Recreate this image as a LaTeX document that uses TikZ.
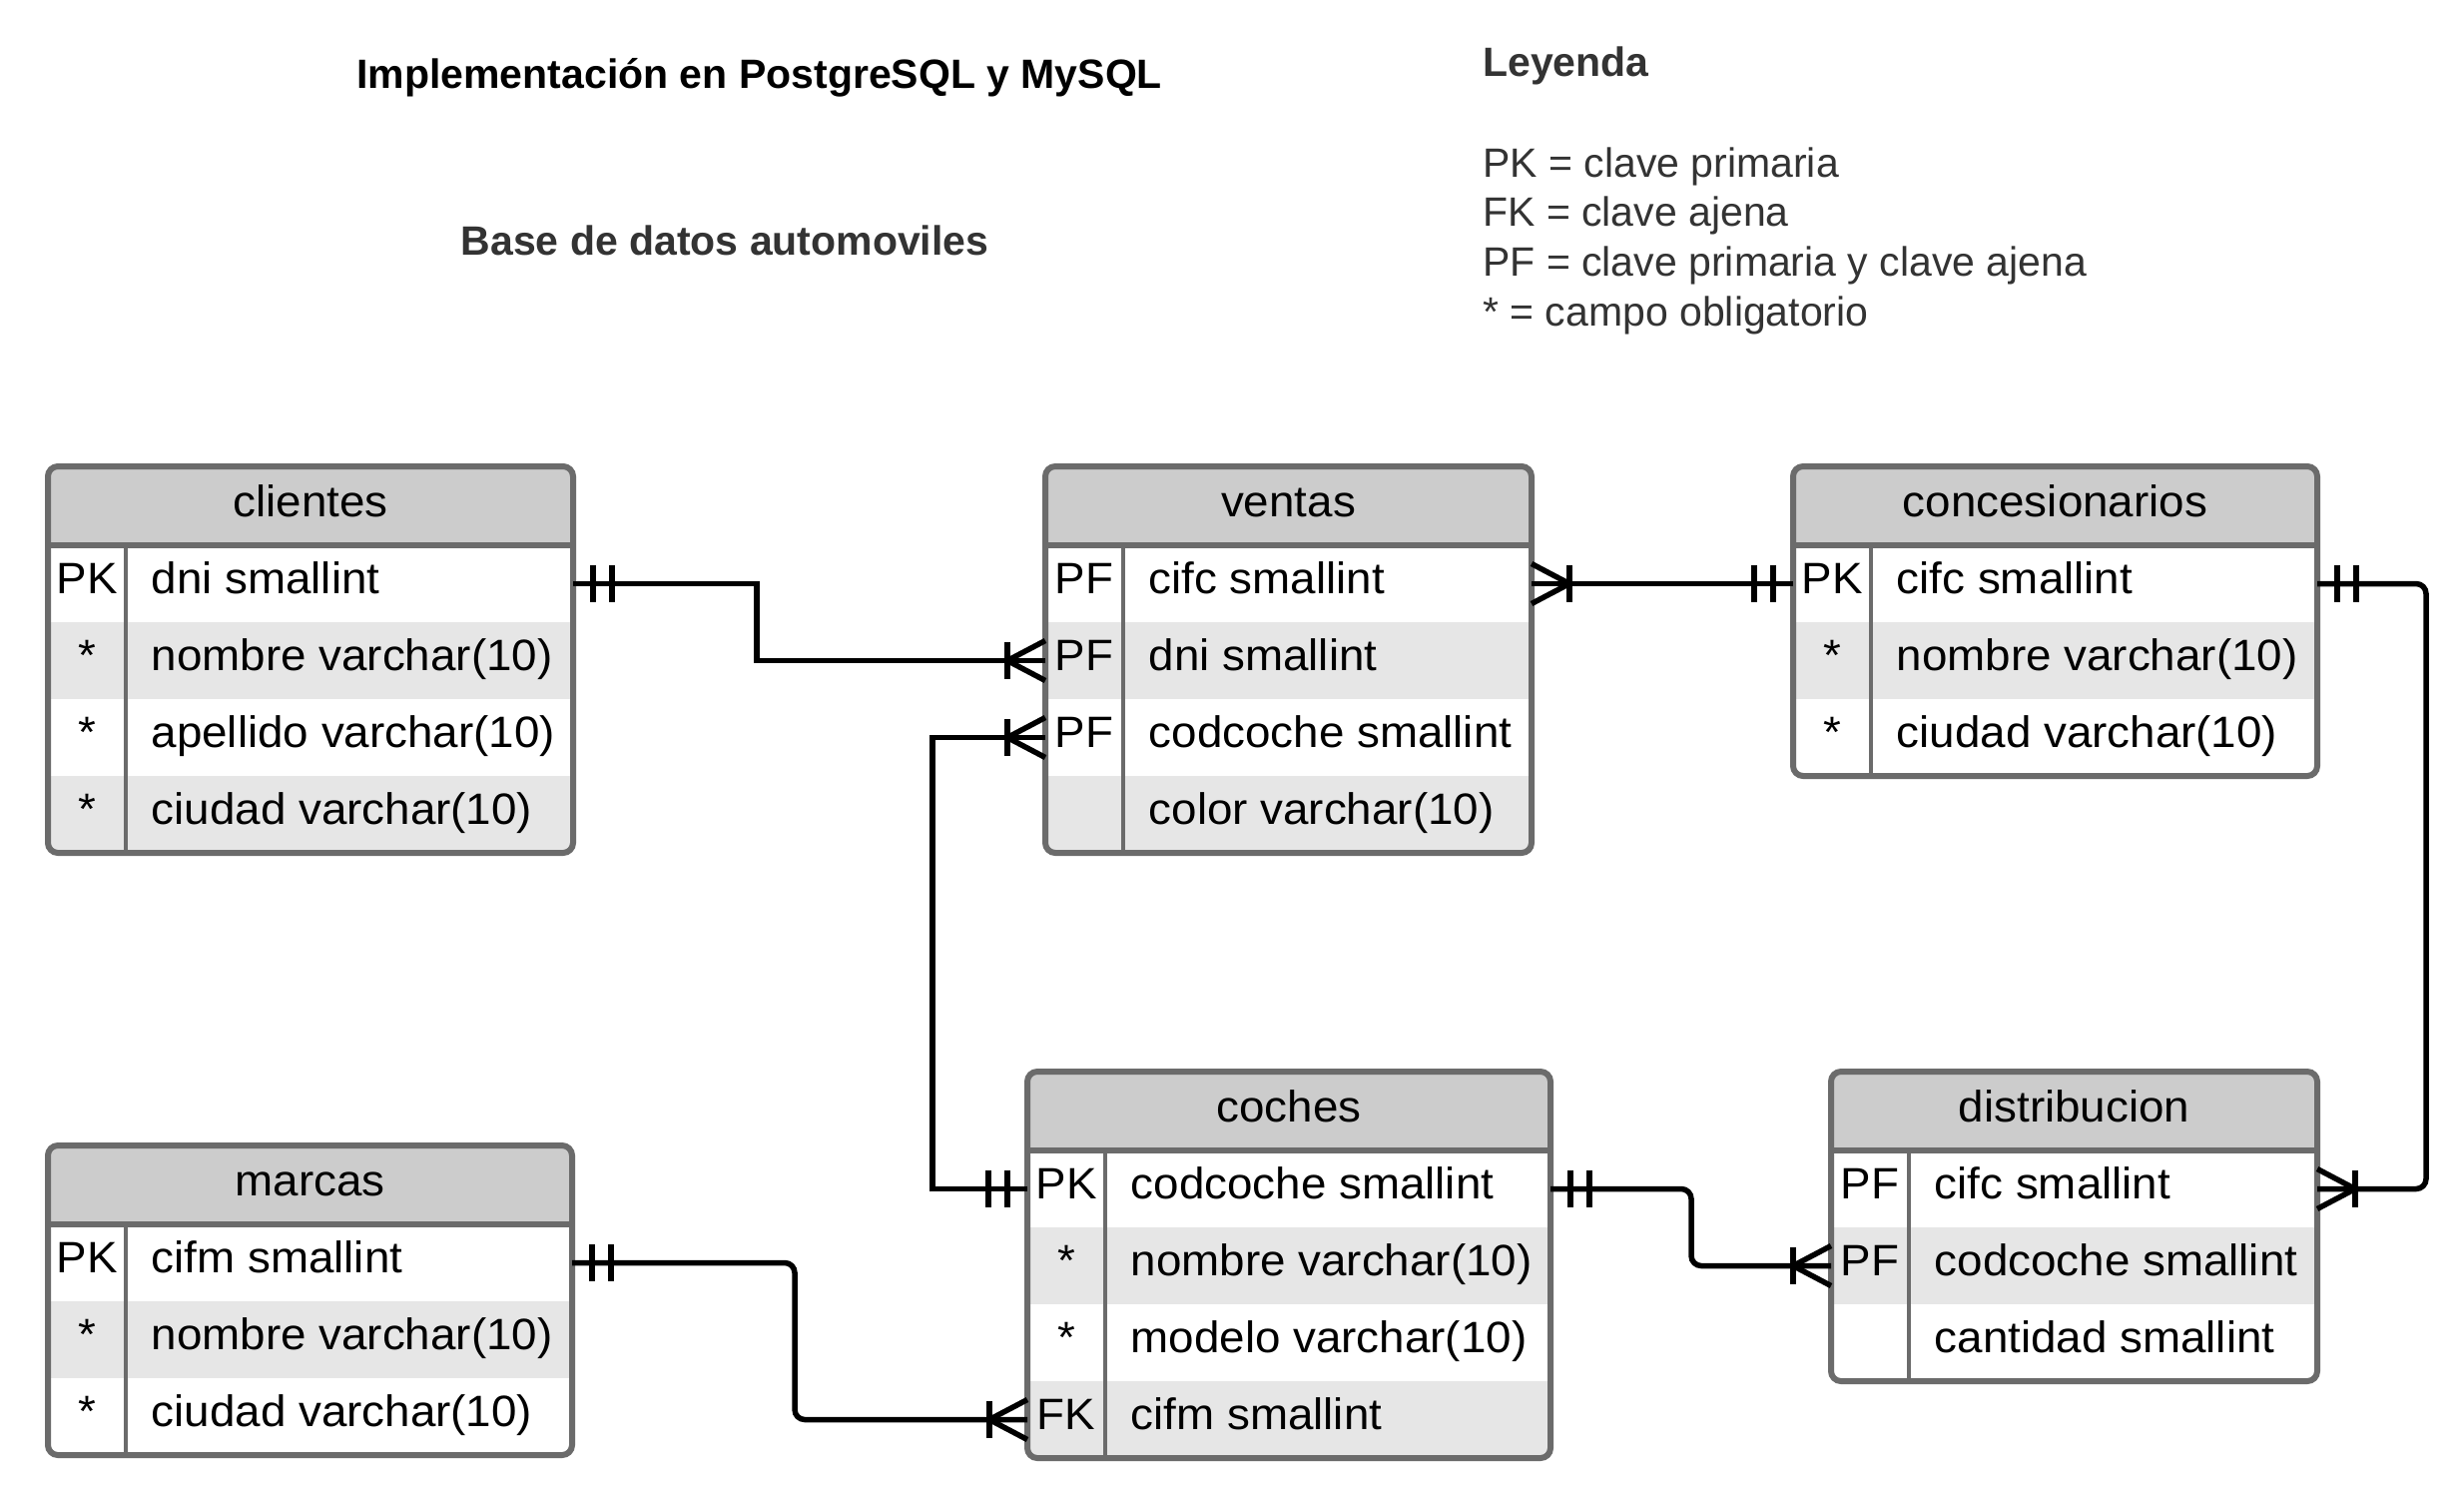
\documentclass[tikz,border=0pt]{standalone}
\usepackage{fontspec}
\setmainfont{Liberation Sans}
\newfontfamily\tabfont{Liberation Sans}[FakeStretch=1.04]
\newfontfamily\titfont{Liberation Sans}
\usetikzlibrary{calc}
\definecolor{hdr}{HTML}{CCCCCC}
\definecolor{rowg}{HTML}{E6E6E6}
\definecolor{bord}{HTML}{6B6B6B}
\definecolor{dk}{HTML}{333333}
\tikzset{
  conn/.style={line width=1.65pt, black},
  rowbox/.style={rectangle, anchor=north west, inner sep=0pt, outer sep=0pt, minimum height=23.1pt, draw=none},
  tabtxt/.style={font=\tabfont\fontsize{13.2}{15}\selectfont, inner sep=0pt, anchor=base},
  fldtxt/.style={tabtxt, anchor=base west},
  tittxt/.style={font=\titfont\fontsize{12.3}{14}\selectfont, inner sep=0pt},
}
% #1 name, #2 left, #3 top, #4 width, #5 title, #6 number of rows, #7 rows key/text
\newcommand\ertable[7]{%
  \pgfmathsetmacro\xl{#2}%
  \pgfmathsetmacro\yt{#3}%
  \pgfmathsetmacro\xr{#2+#4}%
  \pgfmathsetmacro\yh{#3+79}%
  \pgfmathsetmacro\yb{#3+79+#6*77}%
  \pgfmathsetmacro\xd{#2+78}%
  \begin{scope}
    \clip[rounded corners=3pt] (\xl,\yt) rectangle (\xr,\yb);
    \fill[white] (\xl,\yt) rectangle (\xr,\yb);
    \fill[hdr] (\xl,\yt) rectangle (\xr,\yh);
    \foreach \k/\t [count=\i] in {#7} {
      \ifodd\i \def\rf{white}\else\def\rf{rowg}\fi
      \node[rowbox, fill=\rf, minimum width=#4*0.3pt] (#1-\i) at ({\xl},{\yh+(\i-1)*77}) {};
      \node[tabtxt] at ({\xl+39},{\yh+(\i-1)*77+48.5}) {\k};
      \node[fldtxt] at ({\xd+25},{\yh+(\i-1)*77+48.5}) {\t};
    }
  \end{scope}
  \draw[bord, line width=1.8pt] (\xl,\yh) -- (\xr,\yh);
  \draw[bord, line width=1.3pt] (\xd,\yh) -- (\xd,\yb);
  \draw[bord, line width=1.8pt, rounded corners=3pt] (\xl,\yt) rectangle (\xr,\yb);
  \node[tabtxt] (#1) at ({(\xl+\xr)/2},{\yt+50}) {#5};
}
\newcommand\onemark[2]{%
  \draw[conn] ($(#1)+(#2*20,-18.5)$) -- ++(0,37);
  \draw[conn] ($(#1)+(#2*39,-18.5)$) -- ++(0,37);}
\newcommand\manymark[2]{%
  \draw[conn] ($(#1)+(#2*38,-18.5)$) -- ++(0,37);
  \draw[conn, line join=round] ($(#1)+(0,-20)$) -- ($(#1)+(#2*38,0)$) -- ($(#1)+(0,20)$);}
\begin{document}
\begin{tikzpicture}[x=0.3pt,y=-0.3pt]
\useasboundingbox (0,0) rectangle (2468,1494);
\fill[white] (0,0) rectangle (2468,1494);

% titles
\node[tittxt, anchor=base, text=black] (t1) at (760.7,88.5) {\bfseries Implementación en PostgreSQL y MySQL};
\node[tittxt, anchor=base, text=dk] (t2) at (726,255) {\bfseries Base de datos automoviles};
\node[tittxt, anchor=base west, text=dk] (leg) at (1484.6,76.7) {\bfseries Leyenda};
\node[tittxt, anchor=base west, text=dk] (l1) at (1484.6,177.3) {PK = clave primaria};
\node[tittxt, anchor=base west, text=dk] (l2) at (1484.6,226.8) {FK = clave ajena};
\node[tittxt, anchor=base west, text=dk] (l3) at (1484.6,276.4) {PF = clave primaria y clave ajena};
\node[tittxt, anchor=base west, text=dk] (l4) at (1484.6,326) {* = campo obligatorio};

% tables
\ertable{cli}{48}{467}{526}{clientes}{4}{PK/dni smallint,*/nombre varchar(10),*/apellido varchar(10),*/ciudad varchar(10)}
\ertable{ven}{1047}{467}{487}{ventas}{4}{PF/cifc smallint,PF/dni smallint,PF/codcoche smallint,{}/color varchar(10)}
\ertable{con}{1796}{467}{525}{concesionarios}{3}{PK/cifc smallint,*/nombre varchar(10),*/ciudad varchar(10)}
\ertable{mar}{48}{1147}{525}{marcas}{3}{PK/cifm smallint,*/nombre varchar(10),*/ciudad varchar(10)}
\ertable{coc}{1029}{1073}{524}{coches}{4}{PK/codcoche smallint,*/nombre varchar(10),*/modelo varchar(10),FK/cifm smallint}
\ertable{dis}{1834}{1073}{487}{distribucion}{3}{PF/cifc smallint,PF/codcoche smallint,{}/cantidad smallint}

% connectors
\draw[conn] (cli-1.east) -- ++(184,0) |- (ven-2.west);
\draw[conn] (ven-1.east) -- (con-1.west);
\draw[conn, rounded corners=3pt] (con-1.east) -- ++(109,0) |- (dis-1.east);
\draw[conn] (coc-1.west) -- ++(-95,0) |- (ven-3.west);
\draw[conn, rounded corners=3pt] (coc-1.east) -- ++(141,0) |- (dis-2.west);
\draw[conn, rounded corners=3pt] (mar-1.east) -- ++(223,0) |- (coc-4.west);

% cardinality marks
\onemark{cli-1.east}{1}  \manymark{ven-2.west}{-1}
\manymark{ven-1.east}{1} \onemark{con-1.west}{-1}
\onemark{con-1.east}{1}  \manymark{dis-1.east}{1}
\onemark{coc-1.west}{-1} \manymark{ven-3.west}{-1}
\onemark{coc-1.east}{1}  \manymark{dis-2.west}{-1}
\onemark{mar-1.east}{1}  \manymark{coc-4.west}{-1}
\end{tikzpicture}
\end{document}
